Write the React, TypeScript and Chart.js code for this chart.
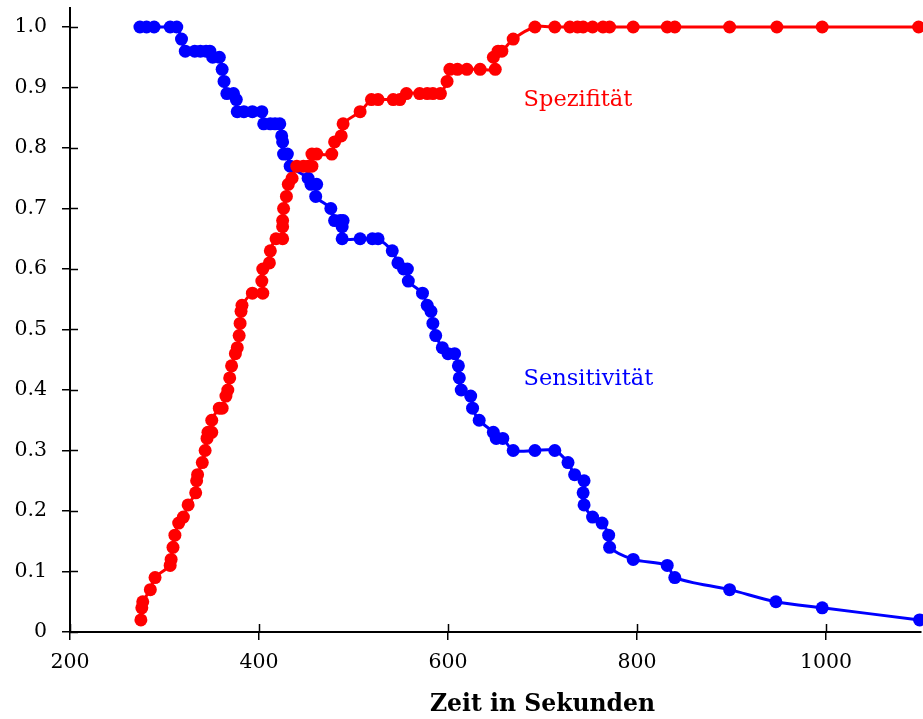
import { useEffect, useRef } from "react";
import { Chart, registerables } from "chart.js";

Chart.register(...registerables);

// Sensitivität über der Zeitschwelle
const sensTimes = [
  274, 281, 289, 306, 313, 318, 322, 332, 338, 344, 348, 351, 358, 361, 363, 366,
  373, 376, 377, 384, 393, 403, 405, 412, 417, 422, 424, 425, 426, 430, 433, 452,
  455, 461, 460, 476, 480, 486, 489, 488, 488, 507, 520, 526, 541, 547, 553, 557,
  558, 573, 578, 582, 584, 587, 594, 600, 607, 611, 612, 614, 624, 626, 633, 648,
  651, 658, 669, 692, 713, 727, 734, 744, 743, 744, 753, 763, 770, 771, 796, 832,
  840, 898, 947, 996, 1099,
];
const sensValues = [
  1.0, 1.0, 1.0, 1.0, 1.0, 0.98, 0.96, 0.96, 0.96, 0.96, 0.96, 0.95, 0.95, 0.93, 0.91, 0.89,
  0.89, 0.88, 0.86, 0.86, 0.86, 0.86, 0.84, 0.84, 0.84, 0.84, 0.82, 0.81, 0.79, 0.79, 0.77, 0.75,
  0.74, 0.74, 0.72, 0.7, 0.68, 0.68, 0.68, 0.67, 0.65, 0.65, 0.65, 0.65, 0.63, 0.61, 0.6, 0.6,
  0.58, 0.56, 0.54, 0.53, 0.51, 0.49, 0.47, 0.46, 0.46, 0.44, 0.42, 0.4, 0.39, 0.37, 0.35, 0.33,
  0.32, 0.32, 0.3, 0.3, 0.3, 0.28, 0.26, 0.25, 0.23, 0.21, 0.19, 0.18, 0.16, 0.14, 0.12, 0.11,
  0.09, 0.07, 0.05, 0.04, 0.02,
];

// Spezifität über der Zeitschwelle
const specTimes = [
  275, 276, 277, 285, 290, 306, 307, 309, 311, 315, 320, 325, 333, 334, 335, 340,
  343, 345, 346, 350, 350, 358, 361, 365, 367, 369, 371, 375, 377, 379, 380, 381,
  382, 393, 404, 403, 404, 411, 412, 418, 425, 425, 425, 426, 429, 431, 435, 440,
  447, 452, 456, 456, 461, 477, 480, 487, 489, 507, 519, 526, 542, 549, 556, 570,
  578, 584, 592, 599, 602, 610, 620, 634, 650, 648, 653, 657, 669, 692, 713, 729,
  737, 743, 753, 764, 771, 796, 832, 840, 898, 948, 996, 1098,
];
const specValues = [
  0.02, 0.04, 0.05, 0.07, 0.09, 0.11, 0.12, 0.14, 0.16, 0.18, 0.19, 0.21, 0.23, 0.25, 0.26, 0.28,
  0.3, 0.32, 0.33, 0.33, 0.35, 0.37, 0.37, 0.39, 0.4, 0.42, 0.44, 0.46, 0.47, 0.49, 0.51, 0.53,
  0.54, 0.56, 0.56, 0.58, 0.6, 0.61, 0.63, 0.65, 0.65, 0.67, 0.68, 0.7, 0.72, 0.74, 0.75, 0.77,
  0.77, 0.77, 0.77, 0.79, 0.79, 0.79, 0.81, 0.82, 0.84, 0.86, 0.88, 0.88, 0.88, 0.88, 0.89, 0.89,
  0.89, 0.89, 0.89, 0.91, 0.93, 0.93, 0.93, 0.93, 0.93, 0.95, 0.96, 0.96, 0.98, 1.0, 1.0, 1.0,
  1.0, 1.0, 1.0, 1.0, 1.0, 1.0, 1.0, 1.0, 1.0, 1.0, 1.0, 1.0,
];

const xTicks = [200, 400, 600, 800, 1000];
const yTicks = [0, 0.1, 0.2, 0.3, 0.4, 0.5, 0.6, 0.7, 0.8, 0.9, 1.0];

const X_MIN = 200;
const X_MAX = 1100;
const Y_MAX = 1.0314;

const SERIF = '"DejaVu Serif", "Liberation Serif", serif';
const TICK_LEN = 8;

const toPoints = (xs: number[], ys: number[]) => xs.map((x, i) => ({ x, y: ys[i] }));

// Inner tick halves, curve labels and the x-axis caption
const overlayPlugin = {
  id: "overlay",
  afterDraw(chart: any) {
    const { ctx, chartArea, scales } = chart;
    const xs = scales.x;
    const ys = scales.y;
    ctx.save();
    ctx.strokeStyle = "#000";
    ctx.lineWidth = 1.5;
    ctx.beginPath();
    for (const v of xTicks) {
      const px = Math.round(xs.getPixelForValue(v)) + 0.5;
      ctx.moveTo(px, chartArea.bottom);
      ctx.lineTo(px, chartArea.bottom - TICK_LEN);
    }
    for (const v of yTicks) {
      const py = Math.round(ys.getPixelForValue(v)) + 0.5;
      ctx.moveTo(chartArea.left, py);
      ctx.lineTo(chartArea.left + TICK_LEN, py);
    }
    ctx.stroke();

    ctx.font = `22.5px ${SERIF}`;
    ctx.textAlign = "left";
    ctx.textBaseline = "middle";
    ctx.fillStyle = "#ff0000";
    ctx.fillText("Spezifität", xs.getPixelForValue(680), ys.getPixelForValue(0.879));
    ctx.fillStyle = "#0000ff";
    ctx.fillText("Sensitivität", xs.getPixelForValue(680), ys.getPixelForValue(0.418));

    ctx.font = `bold 23.5px ${SERIF}`;
    ctx.textAlign = "center";
    ctx.fillStyle = "#000";
    ctx.fillText("Zeit in Sekunden", xs.getPixelForValue(700), chartArea.bottom + 73);
    ctx.restore();
  },
};

export default function App() {
  const canvasRef = useRef<HTMLCanvasElement | null>(null);

  useEffect(() => {
    if (!canvasRef.current) return;
    const chart = new Chart(canvasRef.current, {
      type: "line",
      data: {
        datasets: [
          {
            label: "Spezifität",
            data: toPoints(specTimes, specValues),
            borderColor: "#ff0000",
            backgroundColor: "#ff0000",
            borderWidth: 3,
            pointRadius: 6.5,
            pointBorderWidth: 0,
            tension: 0.3,
            clip: false as any,
          },
          {
            label: "Sensitivität",
            data: toPoints(sensTimes, sensValues),
            borderColor: "#0000ff",
            backgroundColor: "#0000ff",
            borderWidth: 3,
            pointRadius: 6.5,
            pointBorderWidth: 0,
            tension: 0.3,
            clip: false as any,
          },
        ],
      },
      options: {
        animation: false,
        responsive: true,
        maintainAspectRatio: false,
        layout: { autoPadding: false, padding: { top: 8, right: 2.5, left: 0, bottom: 0 } },
        plugins: {
          legend: { display: false },
          tooltip: { enabled: false },
        },
        scales: {
          x: {
            type: "linear",
            min: X_MIN,
            max: X_MAX,
            afterBuildTicks: (scale: any) => {
              scale.ticks = xTicks.map((value) => ({ value }));
            },
            afterFit: (scale: any) => {
              scale.height = 87;
              scale.paddingLeft = 0;
              scale.paddingRight = 0;
            },
            grid: {
              drawOnChartArea: false,
              drawTicks: true,
              tickLength: TICK_LEN,
              color: "#000",
              lineWidth: 1.5,
            },
            border: { display: true, color: "#000", width: 2 },
            ticks: {
              color: "#000",
              font: { family: SERIF, size: 20.5 },
              padding: 10,
              maxRotation: 0,
              callback: (v: any) => String(v),
            },
          },
          y: {
            type: "linear",
            min: 0,
            max: Y_MAX,
            afterBuildTicks: (scale: any) => {
              scale.ticks = yTicks.map((value) => ({ value }));
            },
            afterFit: (scale: any) => {
              scale.width = 70;
              scale.paddingTop = 0;
              scale.paddingBottom = 0;
            },
            grid: {
              drawOnChartArea: false,
              drawTicks: true,
              tickLength: TICK_LEN,
              color: "#000",
              lineWidth: 1.5,
            },
            border: { display: true, color: "#000", width: 2 },
            ticks: {
              color: "#000",
              font: { family: SERIF, size: 20.5 },
              padding: 15,
              callback: (v: any) => (Number(v) === 0 ? "0" : Number(v).toFixed(1)),
            },
          },
        },
      },
      plugins: [overlayPlugin],
    });
    return () => chart.destroy();
  }, []);

  return (
    <div style={{ position: "absolute", left: 0, top: 0, width: 923, height: 719 }}>
      <canvas ref={canvasRef} />
    </div>
  );
}
